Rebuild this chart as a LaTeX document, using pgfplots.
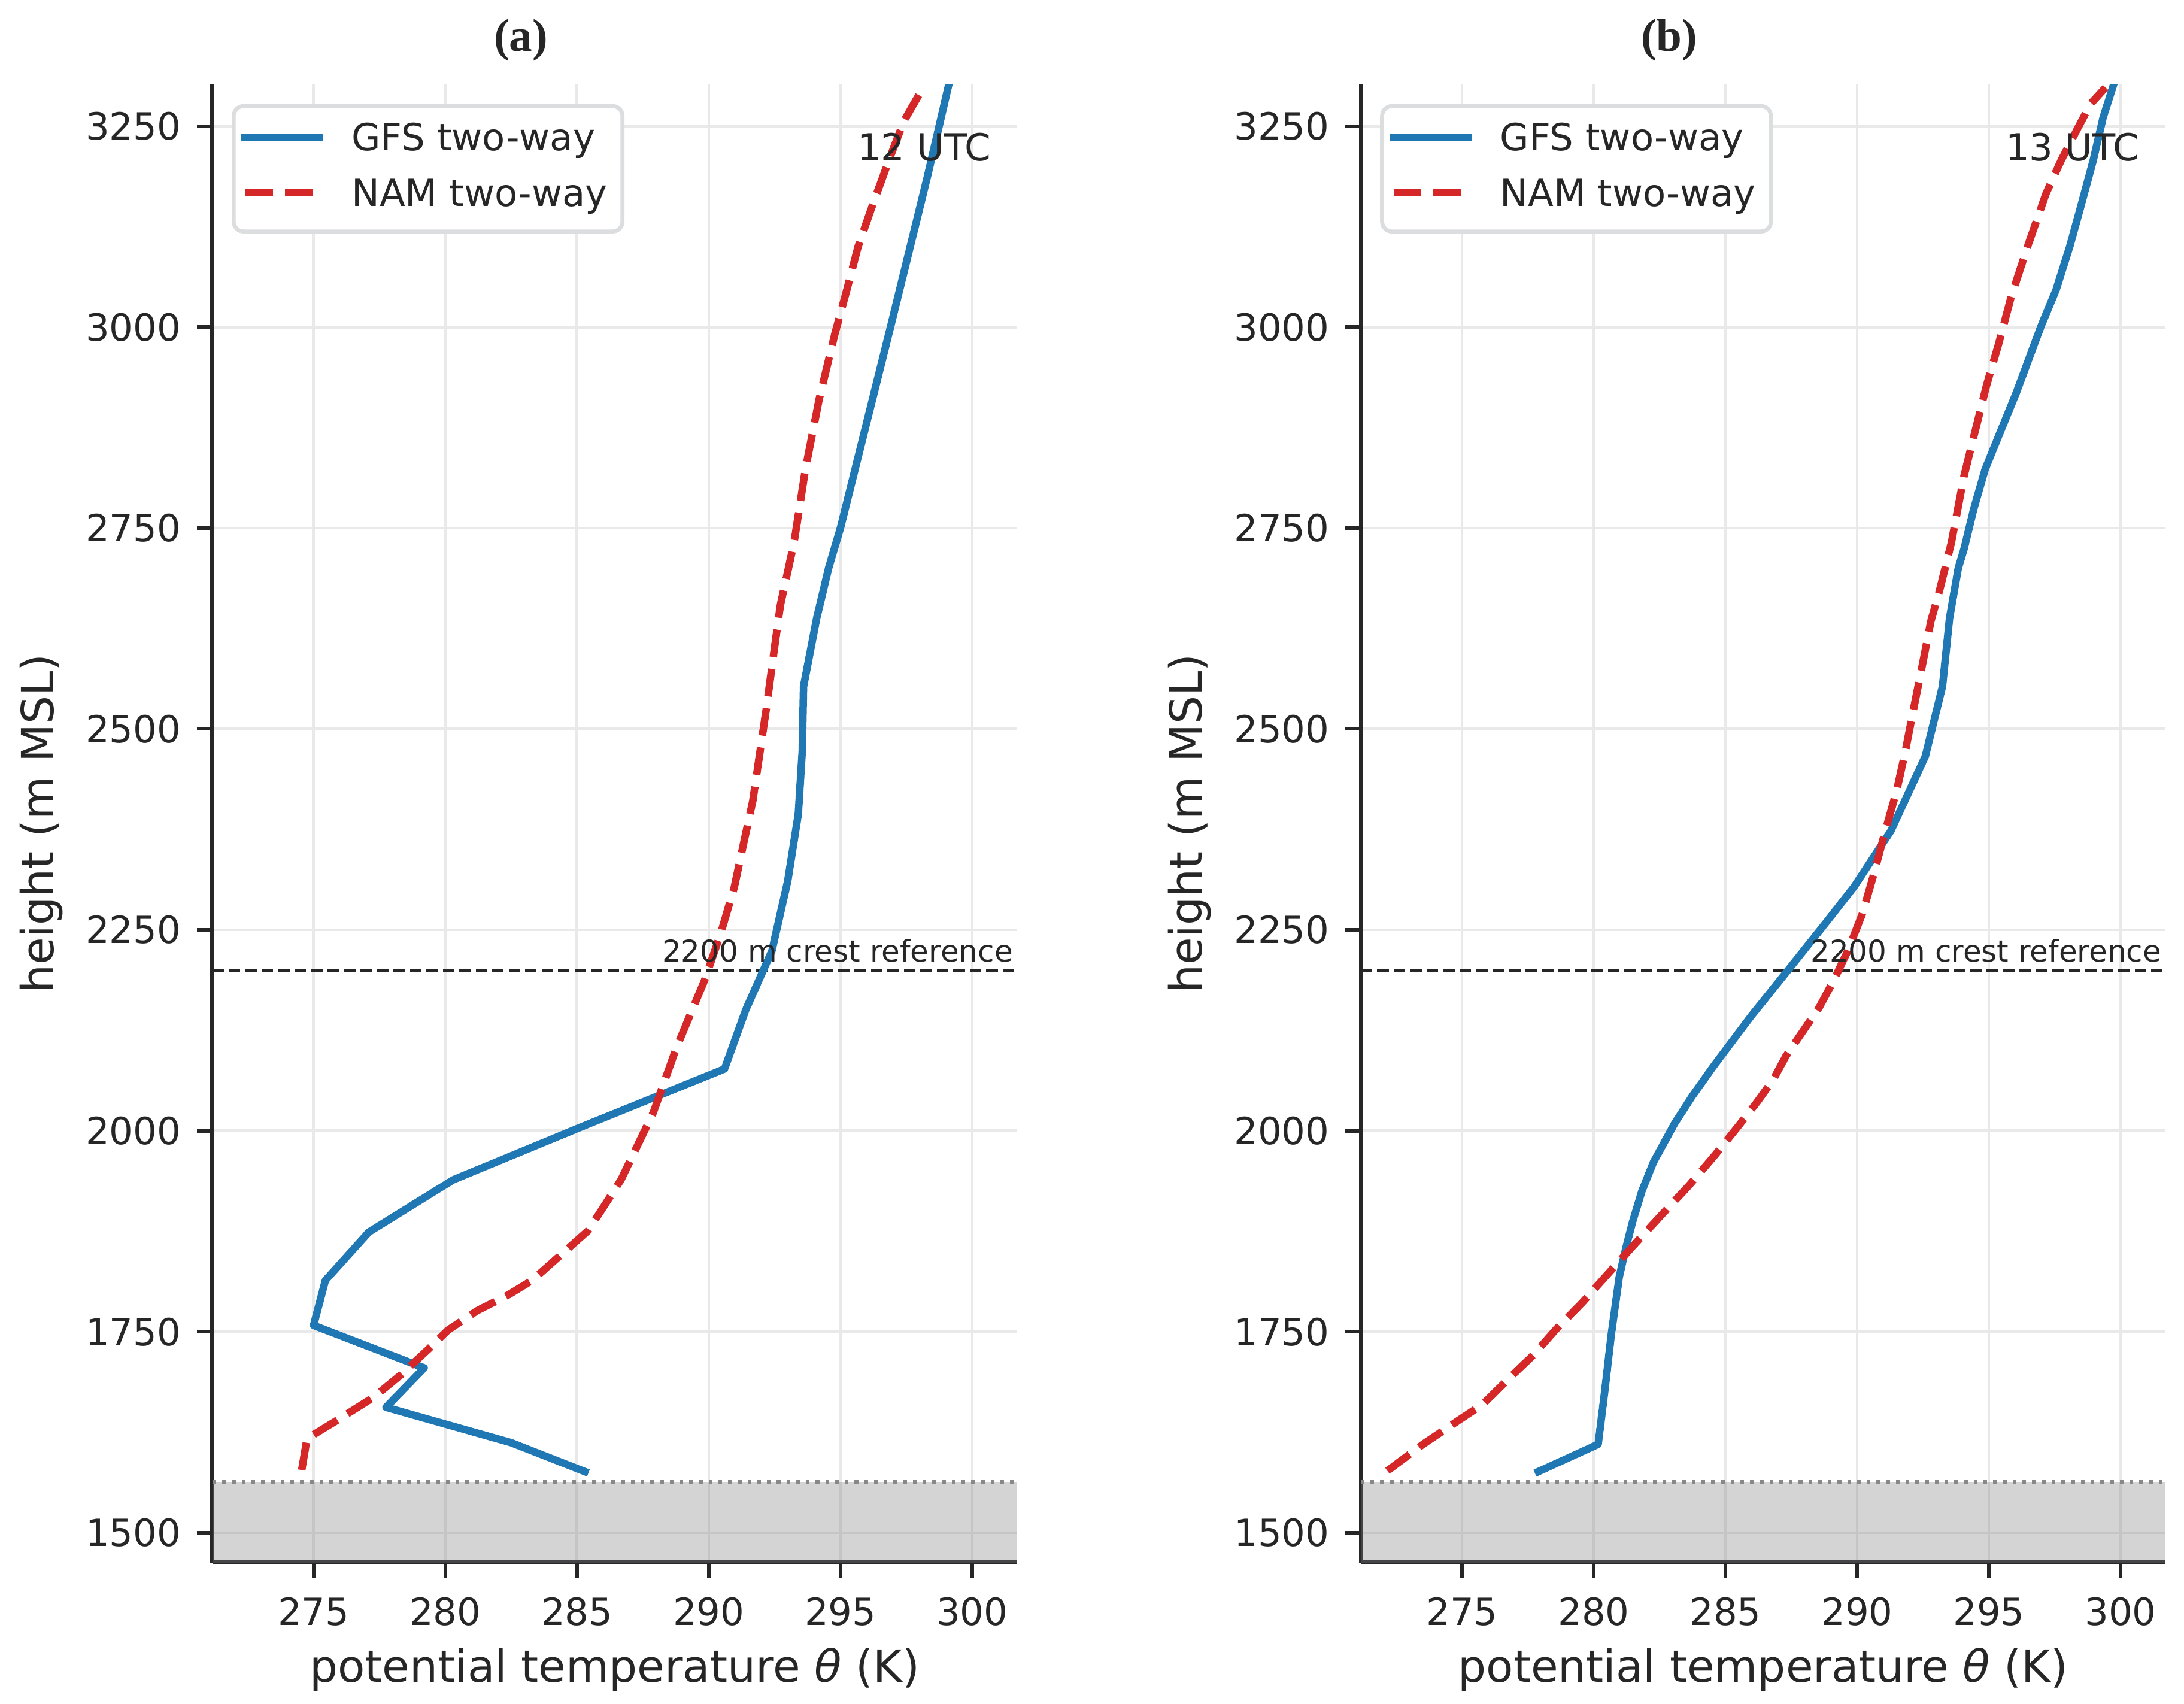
\documentclass[border=0pt]{standalone}
\usepackage{pgfplots}
\pgfplotsset{compat=1.18}
\usepackage{fontspec}
\setmainfont{DejaVu Sans}
\newfontfamily\titlefont{Liberation Serif}

\definecolor{gfsblue}{HTML}{1F77B4}
\definecolor{namred}{HTML}{D62728}
\definecolor{ink}{HTML}{262626}
\definecolor{gridgray}{HTML}{E9E9E9}
\definecolor{legframe}{HTML}{DCDDDF}
\definecolor{terrain}{HTML}{808084}
\definecolor{dotgray}{HTML}{888888}

\pgfplotsset{
  sounding/.style={
    anchor=south west, scale only axis, width=322.5pt, height=592.4pt,
    xmin=271.16, xmax=301.7, ymin=1462.8, ymax=3301.6,
    axis x line*=bottom, axis y line*=left,
    axis line style={-, line width=1.6pt, color=ink},
    xtick={275,280,...,300}, ytick={1500,1750,...,3250},
    tick align=outside, major tick length=6.2pt,
    tick style={line width=1.4pt, color=ink},
    xmajorgrids, ymajorgrids,
    grid style={line width=1.1pt, color=gridgray},
    /pgf/number format/assume math mode=true,
    /pgf/number format/set thousands separator={},
    tick label style={font=\fontsize{15}{18}\selectfont, text=ink, inner sep=0pt},
    xticklabel style={anchor=north, yshift=-7.5pt},
    yticklabel style={anchor=east, xshift=-6.2pt},
    label style={font=\fontsize{17.8}{21}\selectfont, text=ink, inner sep=0pt},
    xlabel style={at={(rel axis cs:0.5,-0.0807)}, anchor=base},
    ylabel style={at={(rel axis cs:-0.1972,0.5)}, anchor=base},
    xlabel={potential temperature {\itshape θ} (K)},
    ylabel={height (m MSL)},
    every axis title shift=0pt,
    title style={at={(rel axis cs:0.3834,1.0303)}, anchor=center, inner sep=0pt,
      font=\titlefont\bfseries\fontsize{18.5}{21}\selectfont, text=ink},
    legend style={at={(rel axis cs:0.024,0.9869)}, anchor=north west,
      draw=legframe, line width=1.6pt, rounded corners=4pt, fill=white,
      inner xsep=3.1pt, inner ysep=6.9pt, row sep=7.9pt, column sep=11.5pt,
      font=\fontsize{15}{18}\selectfont, text=ink,
      nodes={inner sep=0pt, text height=11pt, text depth=3.3pt}},
    legend cell align=left,
    legend image code/.code={\draw[#1] (1.5pt,1.6pt) -- (31.2pt,1.6pt);},
  },
  gfs/.style={color=gfsblue, line width=3pt, line join=round, line cap=rect},
  nam/.style={color=namred, line width=3pt, line join=round, line cap=butt,
    dash pattern=on 11.1pt off 4.8pt},
  ground/.style={draw=none, fill=terrain, fill opacity=0.34, forget plot},
  groundtop/.style={color=dotgray, line width=1.5pt, dash pattern=on 1.5pt off 2.4pt, forget plot},
  crest/.style={color=ink, line width=1.25pt, dash pattern=on 4.6pt off 2pt, forget plot},
}

\begin{document}
\begin{tikzpicture}
\useasboundingbox (0pt,0pt) rectangle (875.5pt,683pt);

% ---------------- (a) 12 UTC ----------------
\begin{axis}[sounding, at={(85.15pt,56.66pt)}, title={(a)}]
  \addplot[ground] coordinates {(260,1400) (310,1400) (310,1563) (260,1563)} -- cycle;
  \addplot[groundtop] coordinates {(271.16,1563) (301.7,1563)};
  \addplot[crest] coordinates {(271.16,2200) (301.7,2200)};
  \addplot[gfs] coordinates {
    (285.3,1576) (282.5,1612) (277.75,1656) (279.2,1705) (275.0,1758)
    (275.45,1814) (277.1,1874) (280.3,1939) (285.1,2004) (290.6,2077)
    (291.4,2150) (292.4,2224) (293.0,2311) (293.4,2394) (293.55,2472)
    (293.6,2553) (294.1,2638) (294.55,2700) (295.0,2750) (296.9,3000)
    (298.3,3187) (299.1,3300)};
  \addlegendentry{GFS two-way\hspace*{2.9pt}}
  \addplot[nam] coordinates {
    (274.55,1578) (274.75,1617) (276.0,1642) (277.3,1669) (278.3,1696)
    (279.35,1728) (280.1,1752) (281.2,1776) (282.4,1796) (283.3,1814)
    (285.43,1876) (286.67,1939) (287.9,2023) (288.77,2103) (289.84,2187)
    (290.45,2245) (290.97,2303) (291.32,2357) (291.67,2410) (291.93,2468)
    (292.19,2526) (292.41,2580) (292.72,2654) (293.24,2732) (293.67,2823)
    (294.19,2910) (294.8,2993) (295.24,3046) (295.67,3100) (296.2,3150)
    (296.89,3212) (297.42,3257) (298.07,3294)};
  \addlegendentry{NAM two-way\hspace*{2.9pt}}
  \node[anchor=base east, inner sep=0pt, xshift=-1.4pt, yshift=3.4pt, text=ink,
        font=\fontsize{12}{14}\selectfont] at (axis cs:301.7,2200) {2200 m crest reference};
  \node[anchor=north east, inner sep=0pt, text=ink, font=\fontsize{15}{18}\selectfont]
        at (rel axis cs:0.9684,0.9676) {12 UTC};
\end{axis}

% ---------------- (b) 13 UTC ----------------
\begin{axis}[sounding, at={(545.5pt,56.66pt)}, title={(b)}]
  \addplot[ground] coordinates {(260,1400) (310,1400) (310,1563) (260,1563)} -- cycle;
  \addplot[groundtop] coordinates {(271.16,1563) (301.7,1563)};
  \addplot[crest] coordinates {(271.16,2200) (301.7,2200)};
  \addplot[gfs] coordinates {
    (277.9,1576) (280.17,1610) (280.42,1676) (280.67,1747) (280.97,1818)
    (281.22,1854) (281.47,1886) (281.83,1925) (282.27,1961) (283.07,2009)
    (283.74,2043) (284.54,2080) (285.96,2142) (287.48,2204) (288.89,2262)
    (289.87,2303) (291.28,2373) (292.59,2466) (293.24,2553) (293.51,2638)
    (293.84,2700) (294.06,2724) (294.43,2774) (294.86,2823) (295.38,2865)
    (296.04,2918) (296.98,3001) (297.55,3046) (298.07,3100) (298.49,3150)
    (298.96,3207) (299.34,3261) (299.72,3300)};
  \addlegendentry{GFS two-way\hspace*{2.9pt}}
  \addplot[nam] coordinates {
    (272.17,1577) (273.52,1610) (274.88,1640) (275.8,1660) (276.85,1694)
    (277.71,1721) (278.57,1753) (279.56,1786) (280.54,1822) (281.53,1858)
    (282.51,1893) (283.62,1932) (284.61,1970) (285.47,2005) (286.21,2036)
    (286.82,2064) (287.3,2093) (287.8,2117) (288.57,2154) (289.11,2187)
    (289.65,2224) (290.2,2270) (290.63,2319) (291.07,2373) (291.5,2423)
    (291.83,2472) (292.15,2526) (292.48,2580) (292.8,2634) (293.15,2675)
    (293.58,2732) (294.06,2815) (294.53,2877) (294.91,2927) (295.38,2980)
    (295.85,3038) (296.51,3104) (297.17,3166) (297.74,3207) (298.4,3249)
    (298.87,3278) (299.43,3298)};
  \addlegendentry{NAM two-way\hspace*{2.9pt}}
  \node[anchor=base east, inner sep=0pt, xshift=-1.4pt, yshift=3.4pt, text=ink,
        font=\fontsize{12}{14}\selectfont] at (axis cs:301.7,2200) {2200 m crest reference};
  \node[anchor=north east, inner sep=0pt, text=ink, font=\fontsize{15}{18}\selectfont]
        at (rel axis cs:0.9684,0.9676) {13 UTC};
\end{axis}
\end{tikzpicture}
\end{document}
